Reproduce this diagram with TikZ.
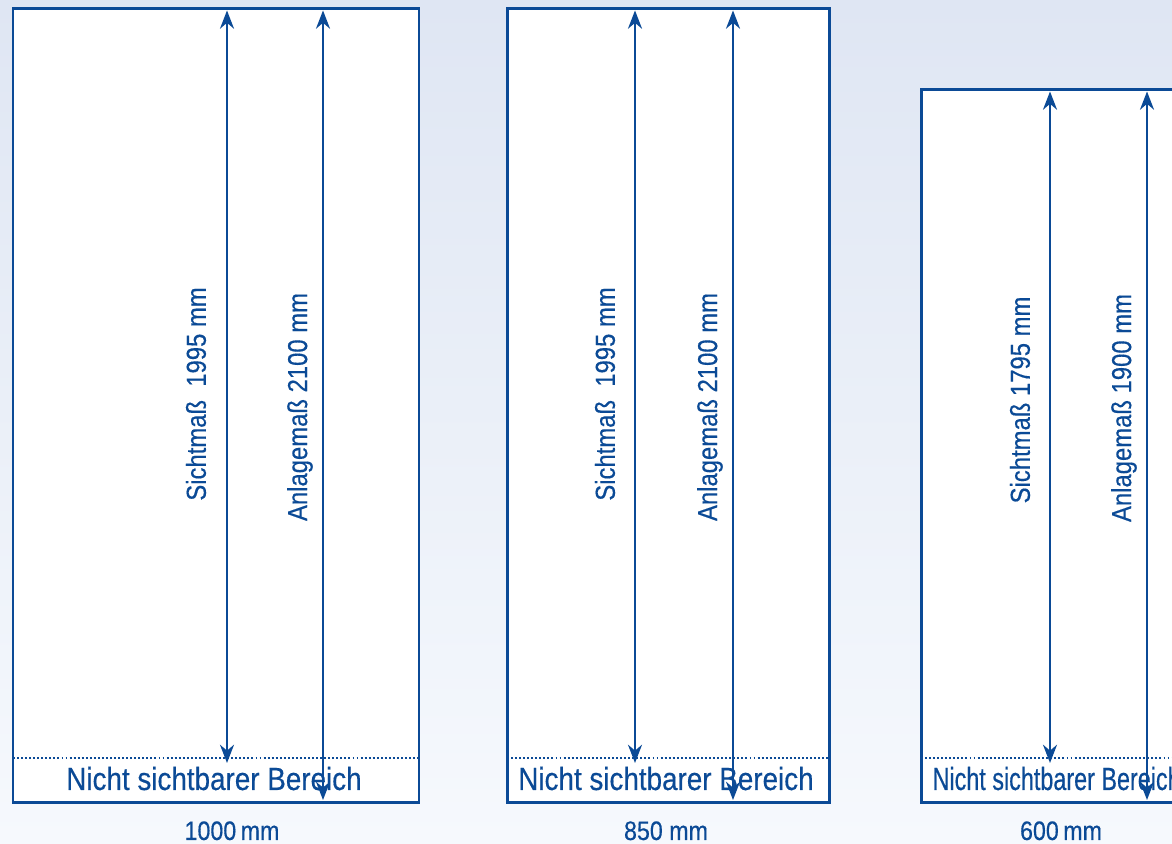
\documentclass[tikz,border=0pt]{standalone}
\usepackage{fontspec}
\setmainfont{Liberation Sans}[FakeStretch=0.87, FakeBold=0.4]
\usetikzlibrary{calc}
\usetikzlibrary{arrows.meta}

\definecolor{doorblue}{HTML}{0B4A96}
\definecolor{bgtop}{HTML}{DFE6F3}
\definecolor{bgbottom}{HTML}{F6F9FD}

\tikzset{
  frame/.style={draw=doorblue, line width=0.85pt, fill=white},
  hiddenline/.style={draw=doorblue, line width=0.7pt, dash pattern=on 0.55pt off 0.6pt},
  dimarrow/.style={draw=doorblue, line width=0.65pt,
    arrows={Stealth[length=5.2pt,width=4pt]-Stealth[length=5.2pt,width=4pt]}},
  dimlabel/.style={text=doorblue, rotate=90, inner sep=0pt, font=\fontsize{7.8}{9}\selectfont},
  arealabel/.style={text=doorblue, inner sep=0pt, anchor=base, font=\fontsize{9.1}{11}\selectfont},
  widthlabel/.style={text=doorblue, inner sep=0pt, anchor=base, font=\fontsize{7.6}{9}\selectfont},
}

\begin{document}
\begin{tikzpicture}

  %% page and background
  \useasboundingbox (0,0) rectangle (11.72,8.44);
  \clip (0,0) rectangle (11.72,8.44);
  \shade[top color=bgtop, bottom color=bgbottom] (0,0) rectangle (11.72,8.44);

  %% corners of the three panels
  \coordinate (wide/sw)   at (0.13,0.41);
  \coordinate (wide/ne)   at (4.19,8.35);
  \coordinate (middle/sw) at (5.07,0.41);
  \coordinate (middle/ne) at (8.29,8.35);
  \coordinate (narrow/sw) at (9.21,0.41);
  \coordinate (narrow/ne) at (12.40,7.54);

  %% frames and the border of the hidden area
  \def\myhidden{0.45}
  \foreach \mypanel in {wide,middle,narrow}
  {
    \coordinate (\mypanel/se) at (\mypanel/sw-|\mypanel/ne);
    \draw[frame] (\mypanel/sw) rectangle (\mypanel/ne);
    \draw[hiddenline] ($(\mypanel/sw)+(0,\myhidden)$) -- ($(\mypanel/se)+(0,\myhidden)$);
  }

  %% hidden area labels
  \node[arealabel] (wide/hidden) at (2.14,0.54) {Nicht sichtbarer Bereich};
  \node[arealabel] (middle/hidden) at (6.66,0.54) {Nicht sichtbarer Bereich};
  \node[arealabel, anchor=base west, xscale=0.84] (narrow/hidden) at (9.32,0.54) {Nicht sichtbarer Bereich};

  %% widths below the panels
  \node[widthlabel] (wide/width) at (2.32,0.04) {1000\,mm};
  \node[widthlabel] (middle/width) at (6.66,0.04) {850 mm};
  \node[widthlabel] (narrow/width) at (10.61,0.04) {600\,mm};

  %% vertical dimension arrows
  \foreach \mypanel/\mysicht/\myanlage/\mytop in {wide/2.27/3.23/8.335, middle/6.35/7.33/8.335, narrow/10.50/11.47/7.525}
  {
    \coordinate (\mypanel/sichttop) at (\mysicht,\mytop);
    \coordinate (\mypanel/sichtbot) at (\mysicht,0.81);
    \coordinate (\mypanel/anlagetop) at (\myanlage,\mytop);
    \coordinate (\mypanel/anlagebot) at (\myanlage,0.44);
    \draw[dimarrow] (\mypanel/sichtbot) -- (\mypanel/sichttop);
    \draw[dimarrow] (\mypanel/anlagebot) -- (\mypanel/anlagetop);
  }

  %% labels of the arrows
  \node[dimlabel] (wide/sicht) at (1.96,4.50) {Sichtmaß\ \ 1995 mm};
  \node[dimlabel] (wide/anlage) at (3.00,4.37) {Anlagemaß 2100 mm};
  \node[dimlabel] (middle/sicht) at (6.05,4.50) {Sichtmaß\ \ 1995 mm};
  \node[dimlabel] (middle/anlage) at (7.10,4.37) {Anlagemaß 2100 mm};
  \node[dimlabel] (narrow/sicht) at (10.20,4.44) {Sichtmaß 1795 mm};
  \node[dimlabel] (narrow/anlage) at (11.24,4.36) {Anlagemaß 1900 mm};

\end{tikzpicture}
\end{document}
